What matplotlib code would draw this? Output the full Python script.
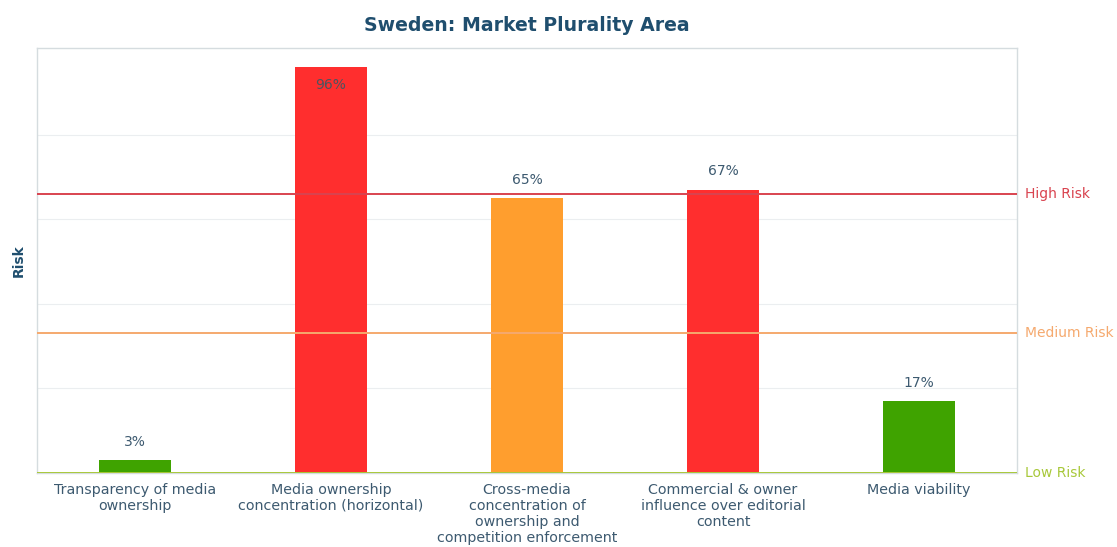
import matplotlib
matplotlib.use("Agg")
import matplotlib.pyplot as plt

categories = ["Transparency of media\nownership",
              "Media ownership\nconcentration (horizontal)",
              "Cross-media\nconcentration of\nownership and\ncompetition enforcement",
              "Commercial & owner\ninfluence over editorial\ncontent",
              "Media viability"]
values = [3, 96, 65, 67, 17]
bar_colors = ["#3fa300", "#ff2e2e", "#ff9e2e", "#ff2e2e", "#3fa300"]
risk_levels = [0, 33, 66]
risk_labels = ["Low Risk", "Medium Risk", "High Risk"]
risk_colors = ["#a8c83a", "#f5a96e", "#d9434f"]

fig = plt.figure(figsize=(11.17, 5.47), dpi=100)
ax = fig.add_axes([0.0331, 0.1353, 0.9105 - 0.0331, 0.9122 - 0.1353])

x = range(len(categories))
ax.bar(x, values, width=0.367, color=bar_colors, zorder=3)
ax.set_xlim(-0.5, len(categories) - 0.5)
ax.set_ylim(0, 100.5)

for yg in [20, 40, 60, 80]:
    ax.axhline(yg, color="#ebeef0", lw=0.8, zorder=1)

for lvl, lab, col in zip(risk_levels, risk_labels, risk_colors):
    ax.axhline(lvl, color=col, lw=1.4, zorder=4)
    ax.text(1.008, lvl / 100.5, lab, transform=ax.transAxes, color=col,
            fontsize=10, va="center", ha="left")

for i, v in enumerate(values):
    if v > 90:
        ax.text(i, v - 2.6, f"{v}%", ha="center", va="top", fontsize=10, color="#4a5560", zorder=5)
    else:
        ax.text(i, v + 2.7, f"{v}%", ha="center", va="bottom", fontsize=10, color="#3d5a70", zorder=5)

ax.set_xticks(list(x))
ax.set_xticklabels(categories, fontsize=10.3, color="#3d5a70", linespacing=1.2)
ax.tick_params(axis="x", length=0, pad=7)
ax.set_yticks([])
ax.set_ylabel("Risk", fontsize=10, fontweight="bold", color="#1f4e6e", labelpad=8)

for s in ax.spines.values():
    s.set_color("#d5dcdf")
    s.set_linewidth(1.0)

fig.text(0.472, 0.953, "Sweden: Market Plurality Area", ha="center", va="center",
         fontsize=13.6, fontweight="bold", color="#1f4e6e")

fig.savefig("out.png", dpi=100, facecolor="white")
